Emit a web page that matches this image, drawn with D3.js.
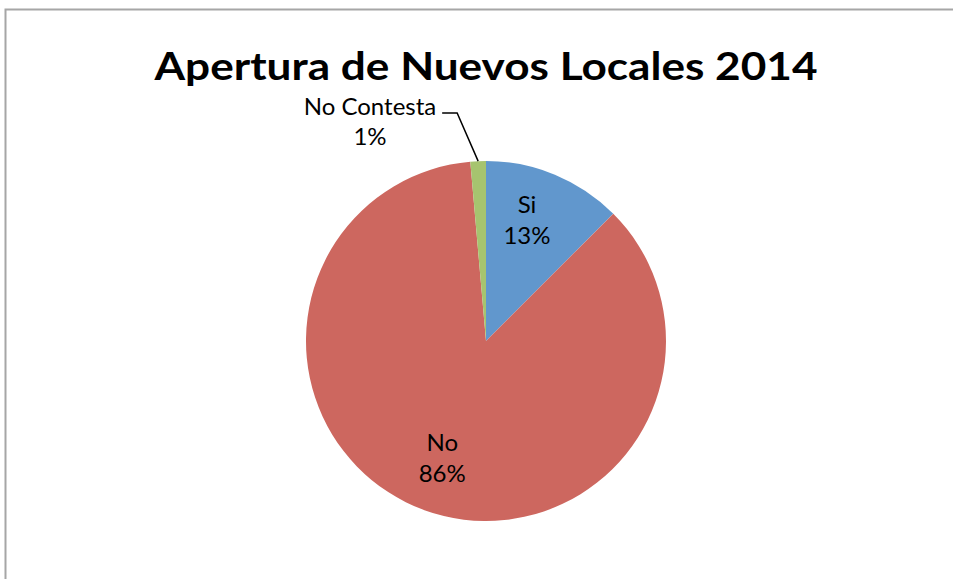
<!DOCTYPE html>
<meta charset="utf-8">
<script src="https://d3js.org/d3.v7.min.js"></script>
<style>
  body { margin: 0; background: #fff; }
  text { font-family: "Lato", "Open Sans", sans-serif; }
</style>
<svg id="chart" width="953" height="579"></svg>
<script>
    // Data (responses; labels show rounded percentages)
    const categories = ["Si", "No", "No Contesta"];
    const counts = [9, 62, 1];
    const colors = ["#6197CD", "#CD675F", "#A6C46F"];

    const svg = d3.select("#chart"),
      width = +svg.attr("width"),
      height = +svg.attr("height");

    // chart frame (runs off the right and bottom edges)
    svg.append("rect")
      .attr("x", 5.5).attr("y", 9.5)
      .attr("width", 960).attr("height", 600)
      .attr("fill", "none")
      .attr("stroke", "#a6a6a6")
      .attr("stroke-width", 2);

    svg.append("text")
      .attr("x", 486).attr("y", 80)
      .attr("text-anchor", "middle")
      .attr("font-size", 39)
      .attr("font-weight", "bold")
      .attr("textLength", 663)
      .attr("lengthAdjust", "spacingAndGlyphs")
      .text("Apertura de Nuevos Locales 2014");

    const cx = 486, cy = 341, radius = 180;
    const total = d3.sum(counts);
    const data = categories.map((c, i) => ({ name: c, value: counts[i], color: colors[i] }));

    const pie = d3.pie().sort(null).value(d => d.value);
    const arc = d3.arc().innerRadius(0).outerRadius(radius);
    const labelArc = d3.arc().innerRadius(128).outerRadius(128);
    const edgeArc = d3.arc().innerRadius(radius).outerRadius(radius);

    const g = svg.append("g").attr("transform", `translate(${cx},${cy})`);
    const arcs = pie(data);

    g.selectAll("path")
      .data(arcs)
      .join("path")
      .attr("d", arc)
      .attr("fill", d => d.data.color);

    const pct = v => Math.round(v / total * 100) + "%";

    // inside labels
    arcs.filter(d => d.data.value / total > 0.05).forEach(d => {
      let [x, y] = labelArc.centroid(d);
      if (x > 0) x -= 8;
      const t = g.append("text")
        .attr("text-anchor", "middle")
        .attr("font-size", 24)
        .attr("fill", "#000");
      t.append("tspan").attr("x", x).attr("y", y - 10).text(d.data.name);
      t.append("tspan").attr("x", x).attr("y", y + 21).text(pct(d.data.value));
    });

    // small slice: label outside with leader line
    arcs.filter(d => d.data.value / total <= 0.05).forEach(d => {
      const [ex, ey] = edgeArc.centroid(d);
      const lx = -116, ly = -226;
      g.append("polyline")
        .attr("points", [[ex, ey], [ex - 21, ly - 2], [ex - 36, ly - 2]].map(p => p.join(",")).join(" "))
        .attr("fill", "none")
        .attr("stroke", "#000")
        .attr("stroke-width", 1.5);
      const t = g.append("text")
        .attr("text-anchor", "middle")
        .attr("font-size", 24)
        .attr("fill", "#000");
      t.append("tspan").attr("x", lx).attr("y", ly).text(d.data.name);
      t.append("tspan").attr("x", lx).attr("y", ly + 30).text(pct(d.data.value));
    });
</script>
